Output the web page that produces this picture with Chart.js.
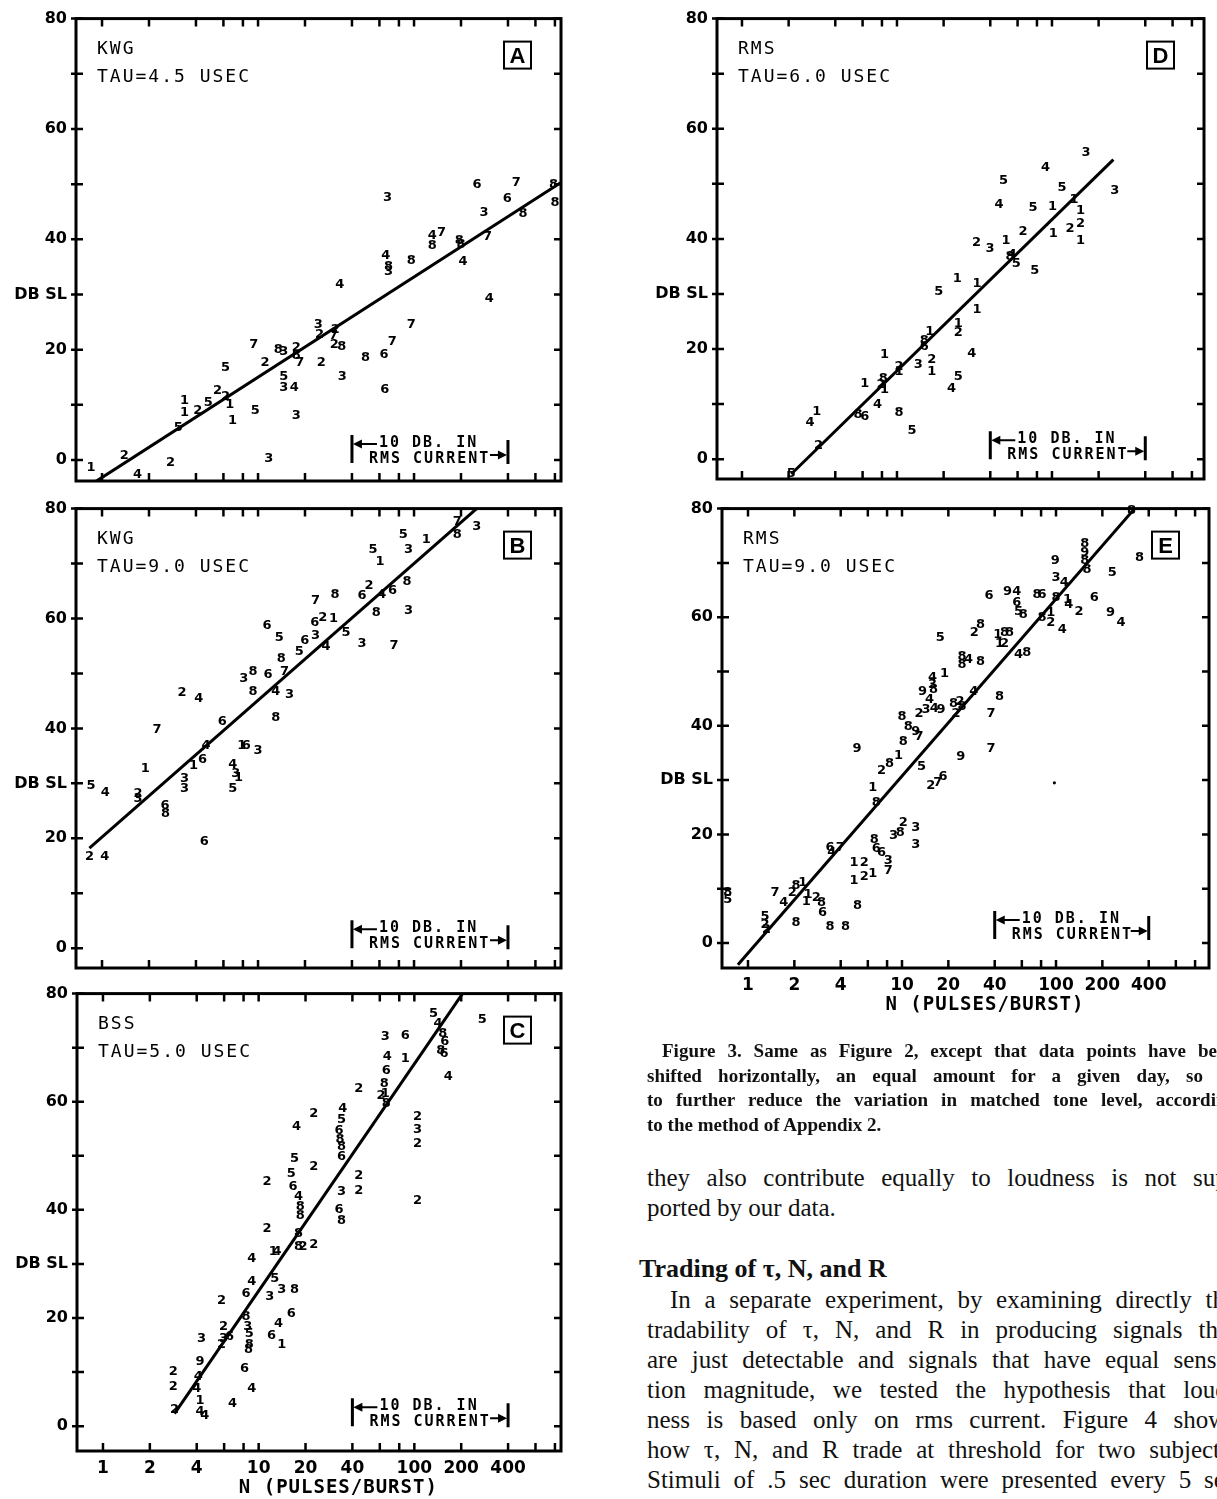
<!DOCTYPE html>
<html>
<head>
<meta charset="utf-8">
<script src="https://cdn.jsdelivr.net/npm/chart.js@4.4.1/dist/chart.umd.min.js"></script>
<style>
html, body { margin: 0; padding: 0; overflow: hidden; background: #fff; }
body { width: 1217px; height: 1499px; position: relative; }
canvas { position: absolute; }
.cap { position: absolute; left: 647px; top: 1039px; width: 589px; font: bold 19px/24.5px "Liberation Serif", serif; color: #111; }
.txt { position: absolute; left: 647px; width: 589px; font: 25px/30px "Liberation Serif", serif; color: #111; }
.j { text-align: justify; text-align-last: justify; }
</style>
</head>
<body>
<canvas id="pA" width="600" height="500" style="left:0px;top:0px"></canvas>
<canvas id="pB" width="600" height="500" style="left:0px;top:490px"></canvas>
<canvas id="pC" width="600" height="524" style="left:0px;top:975px"></canvas>
<canvas id="pD" width="597" height="500" style="left:620px;top:0px"></canvas>
<canvas id="pE" width="597" height="540" style="left:620px;top:490px"></canvas>

<div class="cap">
  <div class="j" style="margin-left:15px">Figure 3. Same as Figure 2, except that data points have been</div>
  <div class="j">shifted horizontally, an equal amount for a given day, so as</div>
  <div class="j">to further reduce the variation in matched tone level, according</div>
  <div>to the method of Appendix 2.</div>
</div>
<div class="txt" style="top:1163px">
  <div class="j">they also contribute equally to loudness is not sup-</div>
  <div>ported by our data.</div>
</div>
<div class="txt" style="top:1254px;left:639px;font-weight:bold;font-size:26px">Trading of τ, N, and R</div>
<div class="txt" style="top:1285px">
  <div class="j" style="margin-left:23px">In a separate experiment, by examining directly the</div>
  <div class="j">tradability of τ, N, and R in producing signals that</div>
  <div class="j">are just detectable and signals that have equal sensa-</div>
  <div class="j">tion magnitude, we tested the hypothesis that loud-</div>
  <div class="j">ness is based only on rms current. Figure 4 shows</div>
  <div class="j">how τ, N, and R trade at threshold for two subjects.</div>
  <div class="j">Stimuli of .5 sec duration were presented every 5 sec</div>
</div>

<script>
// axis ticks
const nTicks = [1, 2, 4, 6, 8, 10, 20, 40, 60, 80, 100, 200, 400, 600, 800];
const nTickLabels = [1, 2, 4, 10, 20, 40, 100, 200, 400];
const dbTicks = [0, 10, 20, 30, 40, 50, 60, 70, 80];

// A: KWG, tau 4.5 usec
const aN = [0.85,1.39,1.69,2.75,3.08,3.38,3.38,4.11,4.80,5.5,6.2,6.87,6.6,6.18,9.6,9.4,11.1,11.7,13.5,14.6,14.6,14.6,17.1,17.6,17.6,18.5,17.6,25.4,24.3,24.8,31.3,30.5,30.8,34.4,34.7,33.4,48.8,64.3,72.5,65,96,67.7,65.8,68.5,68.5,96,131,150,131,195,200,206,253,281,296,303,452,396,500,785,800];
const aDb = [-1.3,0.8,-2.6,-0.4,5.9,10.7,8.6,9.0,10.4,12.6,11.5,7.2,10.1,16.8,8.9,20.9,17.6,0.2,20.0,19.7,15.2,13.1,13.1,20.3,19.0,17.6,8.0,17.6,24.5,22.7,23.6,22.5,20.9,20.6,15.2,31.7,18.5,19.1,21.5,12.8,24.5,47.6,37.1,34.1,35.0,36.2,40.7,41.3,38.9,39.8,39.0,35.9,50,44.9,40.4,29.3,50.3,47.3,44.6,50,46.7];
const aDay = [1,2,4,2,5,1,1,2,5,2,2,1,1,5,5,7,2,3,8,3,5,3,4,2,8,7,3,2,3,2,2,7,2,8,3,4,8,6,7,6,7,3,4,3,8,8,4,7,8,8,8,4,6,3,7,4,7,6,8,8,8];
const aFitN = [0.9, 875];
const aFitDb = [-4.0, 50.3];

// B: KWG, tau 9.0 usec
const bN = [0.85,1.05,0.83,1.04,1.70,1.70,1.89,2.25,2.53,2.55,3.38,3.38,3.26,4.17,3.86,4.40,4.64,4.52,5.9,6.9,7.2,7.5,6.9,7.88,8.4,10.0,8.1,9.3,9.3,11.6,13.0,11.4,13.7,13.0,15.9,14.1,14.8,18.4,19.9,23.4,23.1,23.4,26.0,31.2,30.5,27.3,36.6,46.4,46.4,51.5,57.3,62,72.7,74.5,54.5,60.5,92.3,90,85.4,92.3,120,189,189,252];
const bDb = [29.6,28.4,16.7,16.7,28.1,27.2,32.6,39.8,26.0,24.5,30.8,29.0,46.5,45.5,33.2,34.4,36.8,19.4,41.3,33.5,31.7,31.1,29.0,36.8,36.8,35.9,49.1,50.3,46.7,49.7,41.9,58.7,56.6,46.7,46.1,52.7,50.3,53.9,56.0,56.9,59.3,63.2,60.2,64.4,59.9,54.8,57.5,55.4,64.1,65.9,61.1,64.4,65.0,55.1,72.5,70.4,61.4,66.8,75.2,72.5,74.3,77.6,75.2,76.7];
const bDay = [5,4,2,4,2,3,1,7,6,8,3,3,2,4,1,6,4,6,6,4,3,1,5,1,6,3,3,8,8,6,8,6,5,4,3,8,7,5,6,3,6,7,2,8,1,4,5,3,6,2,8,4,6,7,5,1,3,8,5,3,1,7,8,3];
const bFitN = [0.83, 252];
const bFitDb = [18.2, 80];

// C: BSS, tau 5.0 usec
const cN = [2.88,2.83,2.83,4.2,4.1,4.0,4.2,4.2,4.5,4.3,6.8,5.78,5.78,5.95,5.95,6.5,9.03,8.1,8.3,8.5,8.7,8.7,8.6,8.3,9.03,9.03,11.3,11.3,12.4,13.1,11.8,12.7,14.1,12.1,14.1,13.4,16.2,17.0,17.5,17.0,16.2,16.6,18.0,18.5,18.5,18.0,18.0,19.3,22.6,22.6,22.6,34.7,34.0,32.8,33.3,34.0,34.0,34.0,32.8,34.0,44,44,44,65,67,66,64,65,61,66,87.6,87.6,105,105,105,105,133,142,152,157,148,155,165,273];
const cDb = [3.0,10.0,7.3,11.9,9.1,7.0,4.8,2.7,2.0,16.2,4.2,15.0,23.3,18.4,16.2,16.5,7.0,10.7,20.2,18.4,17.1,15.0,14.1,24.5,26.7,31.0,45.2,36.6,32.2,32.2,23.9,27.3,25.2,16.8,15.0,19.0,20.8,25.2,55.4,49.5,46.7,44.3,42.4,40.6,39.0,35.6,33.2,33.2,57.8,48.0,33.5,58.8,56.6,54.7,52.9,51.7,49.8,43.3,40.0,38.1,46.4,43.6,62.5,72.0,68.3,65.8,63.4,61.5,61.2,59.7,72.3,68.0,57.2,54.9,52.3,41.8,76.3,74.5,72.6,71.1,69.5,68.9,64.6,75.1];
const cDay = [2,2,2,9,4,4,1,4,4,3,4,2,2,2,3,6,4,6,8,3,5,8,8,6,4,4,2,2,1,4,3,5,3,6,1,4,6,8,4,5,5,6,4,8,8,8,8,2,2,2,2,4,5,6,8,8,6,3,6,8,2,2,2,3,4,6,8,1,2,8,6,1,2,3,2,2,5,4,8,6,8,6,4,5];
const cFitN = [2.88, 204];
const cFitDb = [2.3, 80];

// D: RMS, tau 6.0 usec
const dN = [2.75,3.04,3.12,2.08,5.6,6.2,6.2,7.5,8.16,8.3,7.9,8.3,10.3,12.5,10.3,10.3,13.7,16.8,16.8,15.0,15.0,16.3,18.6,22.5,24.9,30.4,24.9,24.9,24.5,32.9,32.9,32.6,39.8,50.5,53.7,55.5,58.8,45.6,48.7,77.6,65,75.6,91,101,102,116,139,153,131,153,153,166,254];
const dDb = [6.6,8.7,2.4,-2.7,8.1,7.8,13.8,9.9,14.7,12.6,13.5,18.9,8.4,5.1,16.8,15.9,17.1,18.0,15.9,21.6,20.4,23.2,30.4,12.9,15.0,19.2,24.7,22.9,32.8,31.9,27.1,39.3,38.2,39.7,36.7,37.2,35.5,46.3,50.5,34.3,41.4,45.7,52.9,45.9,40.9,49.3,47.2,45.1,41.8,42.7,39.7,55.6,48.7];
const dDay = [4,1,2,5,8,6,1,4,8,1,2,1,8,5,2,1,3,2,1,8,6,1,5,4,5,4,1,2,1,1,1,2,3,1,8,4,5,4,5,5,2,5,4,1,1,5,1,1,2,2,1,3,3];
const dFitN = [2.08, 249];
const dFitDb = [-2.7, 54.4];

// E: RMS, tau 9.0 usec
const eN = [0.74,0.74,1.29,1.29,1.32,1.5,1.71,2.05,1.94,2.05,2.27,2.45,2.39,2.78,3.0,3.05,3.41,4.3,3.41,3.98,3.5,5.14,4.88,5.69,4.88,5.69,6.46,5.1,6.6,6.8,7.35,8.15,8.15,8.8,9.75,10.2,12.3,12.3,6.8,6.46,7.35,8.3,9.5,10.2,13.4,15.4,17.1,18.5,10.0,11.0,12.3,12.9,12.9,14.3,16.2,17.9,13.6,15.1,15.8,15.8,16.0,18.9,17.7,21.6,23.8,24.5,22.4,29.2,24.1,37.9,37.9,43.0,24.5,24.5,27.0,32.3,29.5,32.3,36.7,48.5,55.6,55.6,57.0,61.4,41.8,46.4,50.0,43.0,46.4,64.5,57.0,75.3,81.0,81.0,92.6,92.6,110,98.8,100,113,100,119,121,141,154,154,154,159,177,232,349,226,264,309];
const eDb = [9.3,8.0,4.9,3.4,2.5,9.3,7.4,3.7,9.3,10.5,11.1,9.0,7.7,8.3,7.4,5.6,3.1,3.1,17.6,17.6,16.7,6.8,14.8,14.8,11.4,12.3,12.7,35.8,19.1,17.3,16.7,15.1,13.3,19.8,20.4,22.2,21.3,18.2,25.9,28.7,31.8,33.0,34.6,37.0,32.5,29.0,29.6,30.6,41.7,39.8,38.9,38.0,42.3,42.9,43.2,42.9,46.3,44.8,48.8,47.5,46.6,49.7,56.2,44.1,44.4,43.5,42.3,46.3,34.3,42.3,35.8,45.4,52.8,51.2,52.2,51.9,57.1,58.6,64.0,64.8,64.8,62.7,61.1,60.5,56.8,57.1,57.1,55.2,55.2,53.4,53.1,64.2,64.2,59.9,60.8,59.0,57.7,70.4,67.3,66.4,63.6,63.3,62.3,61.1,73.5,71.9,70.4,68.8,63.6,68.2,71.0,60.8,59.0,79.7];
const eDay = [8,5,5,2,2,7,4,8,2,8,1,1,1,2,8,6,8,8,6,7,4,8,1,2,1,2,1,9,8,6,6,3,7,3,8,2,3,3,8,1,2,8,1,8,5,2,7,6,8,8,9,7,2,3,4,9,9,4,4,3,8,1,5,8,2,8,2,4,9,7,7,8,8,8,4,8,2,8,6,9,4,6,5,8,1,8,8,1,2,8,4,8,6,8,1,2,4,9,3,4,8,1,4,2,8,9,8,8,6,5,8,9,4,8];
const eFitN = [0.86, 324];
const eFitDb = [-4.0, 80];
const eDotN = [97.6];
const eDotDb = [29.5];

Chart.defaults.font.family = '"DejaVu Sans", sans-serif';
Chart.defaults.color = '#000';

function arrowHead(ctx, x, y, dir) {
  ctx.beginPath();
  ctx.moveTo(x, y);
  ctx.lineTo(x - dir * 9, y - 4.5);
  ctx.lineTo(x - dir * 9, y + 4.5);
  ctx.closePath();
  ctx.fill();
}

const panelDeco = {
  id: 'panelDeco',
  afterDatasetsDraw(chart, args, o) {
    const ctx = chart.ctx, ca = chart.chartArea, xs = chart.scales.x, ys = chart.scales.y;
    ctx.save();
    ctx.fillStyle = '#000';
    ctx.strokeStyle = '#000';

    // day number drawn at every point
    ctx.font = 'bold 13px "DejaVu Sans"';
    ctx.textAlign = 'center';
    ctx.textBaseline = 'middle';
    chart.data.datasets.forEach((ds, i) => {
      if (!ds.days) return;
      chart.getDatasetMeta(i).data.forEach((pt, j) => ctx.fillText(String(ds.days[j]), pt.x, pt.y));
    });

    // frame + inward ticks on all four sides
    ctx.lineWidth = 3;
    ctx.strokeRect(ca.left, ca.top, ca.width, ca.height);
    ctx.lineWidth = 2.5;
    ctx.beginPath();
    nTicks.forEach(v => {
      const px = xs.getPixelForValue(v);
      ctx.moveTo(px, ca.top); ctx.lineTo(px, ca.top + 8);
      ctx.moveTo(px, ca.bottom); ctx.lineTo(px, ca.bottom - 8);
    });
    dbTicks.forEach(v => {
      const py = ys.getPixelForValue(v);
      ctx.moveTo(ca.left - 5, py); ctx.lineTo(ca.left + 7, py);
      ctx.moveTo(ca.right, py); ctx.lineTo(ca.right - 7, py);
    });
    ctx.stroke();

    // subject / pulse width
    ctx.textAlign = 'left';
    ctx.font = '18px "DejaVu Sans Mono"';
    ctx.letterSpacing = '2px';
    ctx.fillText(o.subject, ca.left + 21, ca.top + 31);
    ctx.fillText(o.tau, ca.left + 21, ca.top + 59);

    // boxed panel letter
    const bx = ca.right - 57, by = ca.top + 23;
    ctx.letterSpacing = '0px';
    ctx.lineWidth = 2;
    ctx.strokeRect(bx, by, 27, 27);
    ctx.font = 'bold 22px "Liberation Sans"';
    ctx.textAlign = 'center';
    ctx.fillText(o.letter, bx + 13.5, by + 15);

    // 10 dB in rms current bracket (one decade of N)
    const x1 = xs.getPixelForValue(40), x2 = xs.getPixelForValue(400);
    const y0 = ys.getPixelForValue(0) + o.annoDy;
    const l1 = y0 - 20, l2 = y0 - 4;
    ctx.lineWidth = 3;
    ctx.beginPath();
    ctx.moveTo(x1, l1 - 8); ctx.lineTo(x1, l2 + 4);
    ctx.moveTo(x2, l1 - 3); ctx.lineTo(x2, l2 + 5);
    ctx.stroke();
    ctx.lineWidth = 2;
    ctx.beginPath();
    ctx.moveTo(x1 + 4, l1 + 1); ctx.lineTo(x1 + 25, l1 + 1);
    ctx.moveTo(x2 - 18, l2 - 4); ctx.lineTo(x2 - 4, l2 - 4);
    ctx.stroke();
    arrowHead(ctx, x1 + 1, l1 + 1, -1);
    arrowHead(ctx, x2 - 1, l2 - 4, 1);
    ctx.font = 'bold 15px "DejaVu Sans Mono"';
    ctx.letterSpacing = '2px';
    ctx.textAlign = 'left';
    ctx.fillText('10 DB. IN', x1 + 27, l1);
    ctx.fillText('RMS CURRENT', x1 + 17, l2);

    if (o.axisLabels) {
      ctx.font = 'bold 19px "DejaVu Sans Mono"';
      ctx.letterSpacing = '1px';
      ctx.textAlign = 'center';
      ctx.fillText('N (PULSES/BURST)', ca.left + ca.width * 0.54, ca.bottom + 37);
    }
    ctx.restore();
  }
};

function drawPanel(p) {
  const datasets = [
    { data: p.n.map((v, i) => ({ x: v, y: p.db[i] })), days: p.day, pointRadius: 0, pointHoverRadius: 0 },
    { data: p.fitN.map((v, i) => ({ x: v, y: p.fitDb[i] })), showLine: true, borderColor: '#000', borderWidth: 3, pointRadius: 0 }
  ];
  if (p.dotN) {
    datasets.push({ data: p.dotN.map((v, i) => ({ x: v, y: p.dotDb[i] })), pointRadius: 1.6, backgroundColor: '#000', borderWidth: 0 });
  }
  new Chart(document.getElementById(p.id), {
    type: 'scatter',
    data: { datasets },
    options: {
      responsive: false,
      animation: false,
      events: [],
      layout: { padding: { left: 0, top: p.pad[0], right: p.pad[1], bottom: p.pad[2] } },
      plugins: {
        legend: { display: false },
        tooltip: { enabled: false },
        panelDeco: { subject: p.subject, tau: p.tau, letter: p.letter, axisLabels: p.axisLabels, annoDy: p.annoDy }
      },
      scales: {
        x: {
          type: 'logarithmic', min: p.xMin, max: p.xMax, bounds: 'data',
          grid: { display: false, drawTicks: false }, border: { display: false },
          afterBuildTicks: s => { s.ticks = nTicks.map(v => ({ value: v })); },
          afterFit: s => { s.height = p.xH; },
          ticks: {
            autoSkip: false, maxRotation: 0, minRotation: 0, padding: 7, color: '#000',
            font: { size: 17, weight: 'bold' },
            callback: v => (p.axisLabels && nTickLabels.includes(v)) ? String(v) : ''
          }
        },
        y: {
          type: 'linear', min: p.yMin, max: 80, bounds: 'data',
          grid: { display: false, drawTicks: false }, border: { display: false },
          afterBuildTicks: s => { s.ticks = dbTicks.map(v => ({ value: v })); },
          afterFit: s => { s.width = p.yW; },
          ticks: {
            autoSkip: false, padding: 9, color: '#000',
            font: { size: 16, weight: 'bold' },
            callback: v => v % 20 === 0 ? String(v) : (v === 30 ? 'DB SL' : '')
          }
        }
      }
    },
    plugins: [panelDeco]
  });
}

drawPanel({ id: 'pA', n: aN, db: aDb, day: aDay, fitN: aFitN, fitDb: aFitDb, subject: 'KWG', tau: 'TAU=4.5 USEC', letter: 'A',
  xMin: 0.681, xMax: 875, yMin: -3.8, axisLabels: false, pad: [14, 39, 3], yW: 76, xH: 16, annoDy: 3 });
drawPanel({ id: 'pB', n: bN, db: bDb, day: bDay, fitN: bFitN, fitDb: bFitDb, subject: 'KWG', tau: 'TAU=9.0 USEC', letter: 'B',
  xMin: 0.681, xMax: 875, yMin: -3.6, axisLabels: false, pad: [17, 39, 6], yW: 76, xH: 16, annoDy: 0 });
drawPanel({ id: 'pC', n: cN, db: cDb, day: cDay, fitN: cFitN, fitDb: cFitDb, subject: 'BSS', tau: 'TAU=5.0 USEC', letter: 'C',
  xMin: 0.681, xMax: 875, yMin: -4.6, axisLabels: true, pad: [17, 39, 2], yW: 77, xH: 46, annoDy: 0 });
drawPanel({ id: 'pD', n: dN, db: dDb, day: dDay, fitN: dFitN, fitDb: dFitDb, subject: 'RMS', tau: 'TAU=6.0 USEC', letter: 'D',
  xMin: 0.69, xMax: 957, yMin: -3.6, axisLabels: false, pad: [15, 13, 5], yW: 97, xH: 16, annoDy: 0 });
drawPanel({ id: 'pE', n: eN, db: eDb, day: eDay, fitN: eFitN, fitDb: eFitDb, subject: 'RMS', tau: 'TAU=9.0 USEC', letter: 'E',
  xMin: 0.678, xMax: 985, yMin: -4.6, axisLabels: true, pad: [15, 8, 16], yW: 102, xH: 46, annoDy: -4, dotN: eDotN, dotDb: eDotDb });
</script>
</body>
</html>
